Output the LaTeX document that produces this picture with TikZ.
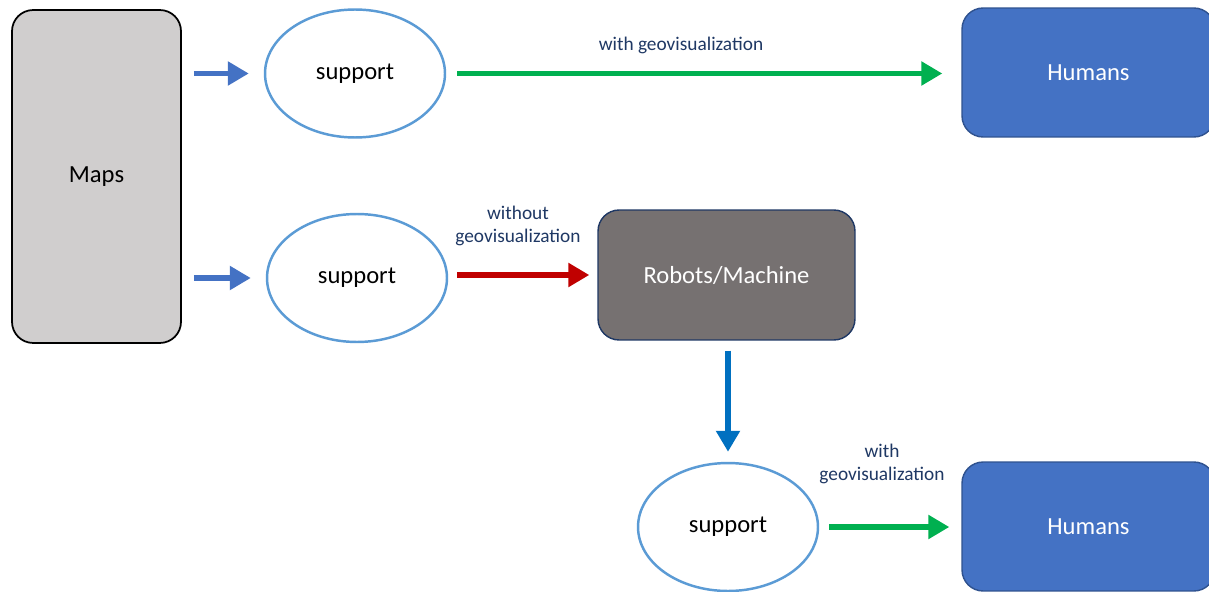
\documentclass[tikz,border=0pt]{standalone}
\usepackage{fontspec}
\setmainfont{Carlito}
\usepackage{tikz}
\usetikzlibrary{arrows.meta, positioning, shapes.geometric}
\definecolor{mapgray}{HTML}{D0CECE}
\definecolor{robgray}{HTML}{767171}
\definecolor{humblue}{HTML}{4472C4}
\definecolor{humedge}{HTML}{2F528F}
\definecolor{supedge}{HTML}{5B9BD5}
\definecolor{navy}{HTML}{1F3864}
\definecolor{flowgreen}{HTML}{00B050}
\definecolor{flowred}{HTML}{C00000}
\definecolor{flowblue}{HTML}{0070C0}

\begin{document}
\begin{tikzpicture}[
    x=0.02cm, y=-0.02cm,
    every node/.style={font=\fontsize{14}{16}\selectfont},
    box/.style={rounded corners=12pt, align=center, inner sep=3pt},
    maps/.style={box, draw=black, line width=1pt, fill=mapgray,
      minimum width=3.38cm, minimum height=6.66cm},
    hum/.style={box, draw=humedge, line width=0.8pt, fill=humblue, text=white,
      minimum width=5.06cm, minimum height=2.58cm},
    robot/.style={box, draw=navy, line width=0.8pt, fill=robgray, text=white,
      minimum width=5.14cm, minimum height=2.6cm},
    sup/.style={ellipse, draw=supedge, line width=1.4pt, fill=white,
      minimum width=3.6cm, minimum height=2.56cm, inner sep=0pt},
    lbl/.style={font=\fontsize{11}{13.5}\selectfont, navy, align=center},
    arr/.style={line width=3.4pt,
      -{Triangle[length=0.42cm, width=0.46cm]}}
  ]
  \useasboundingbox (0,0) rectangle (1209,591);
  \fill[white] (0,0) rectangle (1209,591);

  \node[maps] (maps) at (96.5,176.5) {Maps};
  \node[sup] (sup1) at (355,73.5) {support};
  \node[sup] (sup2) at (357,278) {support};
  \node[robot] (robot) at (726.5,275) {Robots/Machine};
  \node[sup] (sup3) at (728,527) {support};
  \node[hum] (hum1) at (1088.5,72.5) {Humans};
  \node[hum] (hum2) at (1088.5,526.5) {Humans};

  \node[lbl] (lbl1) at (681,45) {with geovisualization};
  \node[lbl] (lbl2) at (518,226) {without\\geovisualization};
  \node[lbl] (lbl3) at (882,464) {with\\geovisualization};

  \draw[arr, humblue, shorten <=0.24cm, shorten >=0.3cm]
    (maps.east |- sup1) -- (sup1.west);
  \draw[arr, humblue, shorten <=0.24cm, shorten >=0.3cm]
    (maps.east |- sup2) -- (sup2.west);
  \draw[arr, flowgreen, shorten <=0.22cm, shorten >=0.38cm]
    (sup1.east) -- (hum1.west |- sup1.east);
  \draw[arr, flowred, shorten <=0.18cm, shorten >=0.16cm]
    (sup2.east |- robot) -- (robot.west);
  \draw[arr, flowblue, shorten <=0.2cm, shorten >=0.2cm]
    (robot.south -| sup3) -- (sup3.north);
  \draw[arr, flowgreen, shorten <=0.2cm, shorten >=0.24cm]
    (sup3.east) -- (hum2.west |- sup3.east);
\end{tikzpicture}
\end{document}
